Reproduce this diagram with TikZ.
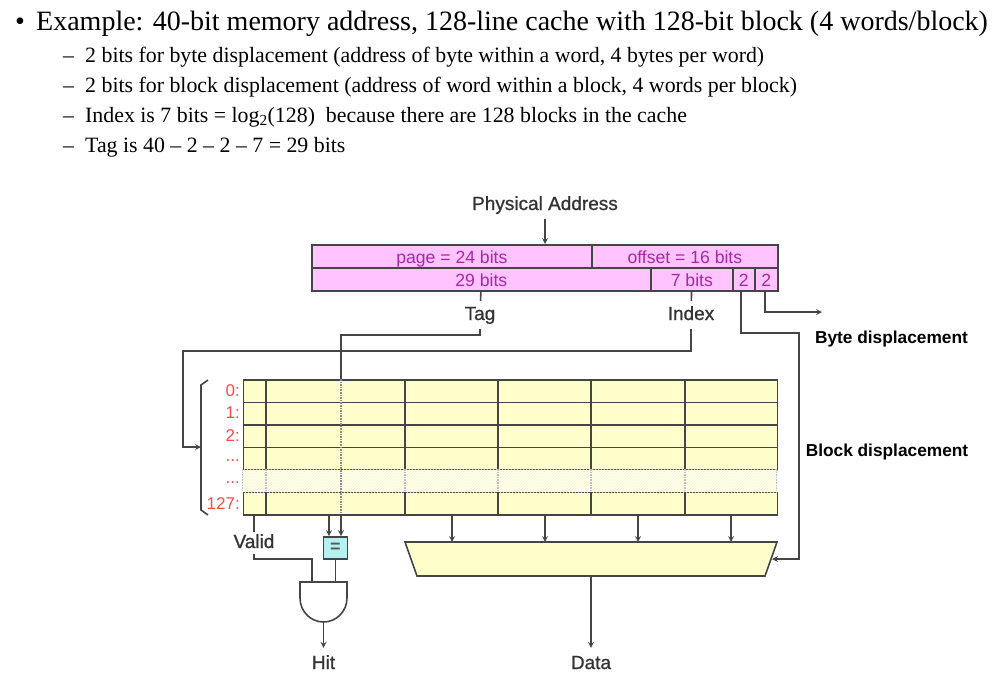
\documentclass[tikz,border=0pt]{standalone}
\usepackage{fontspec}
\setmainfont{Liberation Serif}
\newfontfamily\figfont[FakeBold=1]{Liberation Sans}
\newfontfamily\plainfont{Liberation Sans}
\usetikzlibrary{arrows,patterns}
\definecolor{pinkfill}{HTML}{FFC4FF}
\definecolor{pinktext}{HTML}{A826A8}
\definecolor{cacheyellow}{HTML}{FFFFCC}
\definecolor{cachehatch}{HTML}{F8F6C8}
\definecolor{eqcyan}{HTML}{B4F2F2}
\definecolor{wiregray}{HTML}{454545}
\definecolor{redlabel}{HTML}{FF4848}
\tikzset{wire/.style={draw=wiregray,line width=1.6pt,>=stealth},
  field/.style={draw=wiregray,fill=pinkfill,line width=1.7pt,anchor=north west,inner sep=0pt,minimum height=23pt,text height=15pt,text depth=0pt,text=pinktext,font=\plainfont\fontsize{17.6}{17.6}\selectfont},
  cacherow/.style={draw=wiregray,fill=cacheyellow,line width=1.7pt,anchor=north west,inner sep=0pt,minimum width=534pt,minimum height=22.5pt},
  figlabel/.style={text=black!80,inner xsep=2pt,inner ysep=6pt,text height=13pt,text depth=3pt,font=\figfont\fontsize{19}{19}\selectfont},
  boldlabel/.style={text=black,inner sep=0pt,font=\plainfont\bfseries\fontsize{17.3}{17.3}\selectfont},
  linenum/.style={text=redlabel,anchor=east,inner sep=0pt,font=\plainfont\fontsize{17}{17}\selectfont},
  headline/.style={anchor=base west,inner sep=0pt,font=\fontsize{28}{28}\selectfont},
  subline/.style={anchor=base west,inner sep=0pt,font=\fontsize{21.85}{21.85}\selectfont}}
\begin{document}
\begin{tikzpicture}[x=1pt,y=-1pt]
   \useasboundingbox (0,0) rectangle (999,675);
   \node[headline] (bullet) at (15,30) {•};
   \node[headline] (example) at (36,30) {Example: 40-bit memory address, 128-line cache with 128-bit block (4 words/block)};
   \foreach \y/\name/\txt in {62/byteline/2 bits for byte displacement (address of byte within a word{,} 4 bytes per word),
                              92/blockline/2 bits for block displacement (address of word within a block{,} 4 words per block),
                              122/indexline/Index is 7 bits = log\textsubscript{2}(128)\ \ because there are 128 blocks in the cache,
                              152/tagline/Tag is 40 -- 2 -- 2 -- 7 = 29 bits} {
     \node[subline] (dash\name) at (63,\y) {--};
     \node[subline] (\name) at (85,\y) {\txt};
   }
   % address fields
   \node[field,minimum width=280pt] (page) at (311,244) {page = 24 bits};
   \node[field,minimum width=186pt] (offset) at (591,244) {offset = 16 bits};
   \node[field,minimum width=339pt] (tagbits) at (311,267) {29 bits};
   \node[field,minimum width=82pt] (indexbits) at (650,267) {7 bits};
   \node[field,minimum width=22pt] (blockbits) at (732,267) {2};
   \node[field,minimum width=23pt] (bytebits) at (754,267) {2};
   \node[figlabel] (physaddr) at (545,205) {Physical Address};
   \node[figlabel] (tag) at (480,315) {Tag};
   \node[figlabel] (index) at (691,315) {Index};
   \node[boldlabel] (bytedisp) at (891.5,339) {Byte displacement};
   \node[boldlabel] (blockdisp) at (887,452) {Block displacement};
   \draw[wire,->] (physaddr.south) -- (physaddr.south |- page.north);
   \draw[wire] (tagbits) -- (tag);
   \draw[wire] (indexbits) -- (index);
   % cache
   \foreach \y/\name in {379/row0,401.5/row1,424/row2,446.5/row3,491.5/row127}
     \node[cacherow] (\name) at (242.5,\y) {};
   \node[cacherow,draw=none,fill=cacheyellow!30,minimum height=22.5pt] (rowgap) at (242.5,469) {};
   \fill[pattern=north east lines,pattern color=cachehatch] (rowgap.north west) rectangle (rowgap.south east);
   \foreach \x in {266,405,498,591,685} {
     \draw[wire] (\x,379) -- (\x,469);
     \draw[wire,densely dotted,draw=black!25] (\x,469) -- (\x,491.5);
     \draw[wire] (\x,491.5) -- (\x,514);
   }
   \draw[wire,densely dotted,draw=black!25] (242.5,469) -- (242.5,491.5);
   \draw[wire,densely dotted,draw=black!25] (776.5,469) -- (776.5,491.5);
   \draw[wire,densely dotted,draw=black!45,line width=1.3pt] (341,379) -- (341,514);
   \foreach \y/\txt/\name in {391/0:/num0,413/1:/num1,436/2:/num2,504/127:/num127}
     \node[linenum] (\name) at (240,\y) {\txt};
   \node[linenum] (numa) at (240,461) {...};
   \node[linenum] (numb) at (240,483) {...};
   \draw[wire] (208,380) -- (201,385) -- (201,510) -- (208,515);
   \coordinate (bracketin) at (201,447);
   % mux and compare
   \coordinate (muxa) at (405,542);
   \coordinate (muxb) at (777,542);
   \coordinate (muxc) at (765,576);
   \coordinate (muxd) at (417,576);
   \coordinate (muxin) at (772,559);
   \coordinate (muxout) at (591,576);
   \draw[wire,fill=cacheyellow] (muxa) -- (muxb) -- (muxc) -- (muxd) -- cycle;
   \foreach \x in {452,545,638,731} {
     \coordinate (mux\x) at (\x,542);
     \draw[wire,->] (row127.south -| mux\x) -- (mux\x);
   }
   \node[draw=wiregray,fill=eqcyan,line width=1.7pt,inner sep=0pt,minimum width=24pt,minimum height=22pt,text=black!65,font=\plainfont\bfseries\fontsize{18}{18}\selectfont] (compare) at (335.5,548) {=};
   \coordinate (cmpa) at (329,514);
   \coordinate (cmpb) at (341,514);
   \draw[wire,->] (cmpa) -- (cmpa |- compare.north);
   \draw[wire,->] (cmpb) -- (cmpb |- compare.north);
   % hit gate
   \coordinate (gatel) at (300,582);
   \coordinate (gater) at (347,582);
   \coordinate (gateva) at (312,582);
   \coordinate (gatecm) at (335.5,582);
   \coordinate (gateout) at (323.5,622);
   \draw[wire,fill=white] (gatel) -- (gater) -- (347,598) arc[start angle=0,end angle=180,x radius=23.5,y radius=24] -- cycle;
   \node[figlabel,inner ysep=3pt] (valid) at (254,543) {Valid};
   \node[figlabel,inner ysep=8pt] (hit) at (323.5,664) {Hit};
   \node[figlabel,inner ysep=8pt] (data) at (591,664) {Data};
   \draw[wire] (valid |- row127.south) -- (valid.north);
   \draw[wire] (valid.south) -- (254,559) -- (312,559) -- (gateva);
   \draw[wire] (compare.south) -- (gatecm);
   \draw[wire,->] (gateout) -- (gateout |- hit.north);
   \draw[wire,->] (muxout) -- (muxout |- data.north);
   % tag, index, displacement wires
   \draw[wire] (tag.south) -- (480,335) -- (341,335) -- (341,379);
   \draw[wire,->] (index.south) -- (691,351) -- (183,351) -- (183,447) -- (bracketin);
   \draw[wire,->] (blockbits.south -| 741,0) -- (741,333) -- (799,333) -- (799,559) -- (muxin);
   \draw[wire,->] (bytebits.south -| 765,0) -- (765,312) -- (822,312);
\end{tikzpicture}
\end{document}
